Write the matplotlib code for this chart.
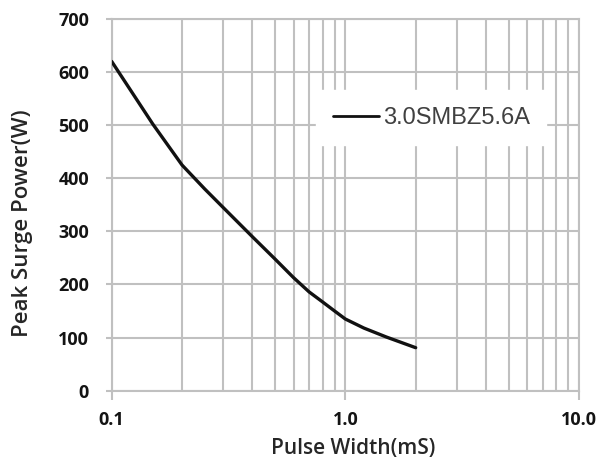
import matplotlib
matplotlib.use("Agg")
import matplotlib.pyplot as plt
from matplotlib.ticker import FixedLocator, LogLocator, NullFormatter

pulse_width = [0.1, 0.15, 0.2, 0.25, 0.3, 0.4, 0.5, 0.6, 0.7, 0.8, 0.9, 1.0, 1.2, 1.5, 2.0]
peak_power = [620, 502, 425, 380, 345, 290, 248, 213, 186, 167, 150, 135, 118, 101, 81]
series_name = "3.0SMBZ5.6A"
y_ticks = [0, 100, 200, 300, 400, 500, 600, 700]
x_ticks = [0.1, 1.0, 10.0]
x_tick_labels = ["0.1", "1.0", "10.0"]

W, H = 597, 461
fig = plt.figure(figsize=(W / 100, H / 100), dpi=100)
ax = fig.add_axes([0.1871, 0.1525, 0.7827, 0.8063])

grid_c = "#c0c0c0"
ax.plot(pulse_width, peak_power, color="#111111", lw=2.4, label=series_name,
        zorder=3, solid_joinstyle="round", solid_capstyle="round")
ax.set_xscale("log")
ax.set_xlim(0.1, 10.0)
ax.set_ylim(0, 700)
ax.xaxis.set_major_locator(FixedLocator(x_ticks))
ax.set_xticklabels(x_tick_labels)
ax.xaxis.set_minor_locator(LogLocator(base=10, subs=range(2, 10)))
ax.xaxis.set_minor_formatter(NullFormatter())
ax.set_yticks(y_ticks)
ax.grid(True, which="both", axis="x", color=grid_c, lw=1.5)
ax.grid(True, which="major", axis="y", color=grid_c, lw=1.5)
for s in ax.spines.values():
    s.set_color(grid_c)
    s.set_linewidth(1.5)
ax.tick_params(axis="x", which="major", length=6.7, color=grid_c, width=1.5, pad=8)
ax.tick_params(axis="x", which="minor", length=0)
ax.tick_params(axis="y", length=4.3, color=grid_c, width=1.5, pad=12)
for lab in ax.get_xticklabels() + ax.get_yticklabels():
    lab.set_fontfamily("Open Sans")
    lab.set_fontweight("bold")
    lab.set_fontsize(13)
    lab.set_color("#141414")

label_style = dict(fontfamily="Open Sans", fontweight="semibold", color="#262626",
                   ha="center", va="center")
fig.text(353 / W, 1 - 448 / H, "Pulse Width(mS)", fontsize=15, **label_style)
fig.text(22.5 / W, 1 - 223 / H, "Peak Surge Power(W)", fontsize=16, rotation=90,
         **label_style)

leg = ax.legend(loc="center", bbox_to_anchor=(0.684, 0.734), frameon=True,
                fancybox=False, edgecolor="white", facecolor="white", framealpha=1,
                prop={"family": "Liberation Sans", "size": 17},
                handlelength=1.95, handletextpad=0.17, borderpad=0.7)
for t in leg.get_texts():
    t.set_color("#404040")
for h in leg.get_lines():
    h.set_linewidth(2.0)

fig.savefig("out.png", dpi=100)
